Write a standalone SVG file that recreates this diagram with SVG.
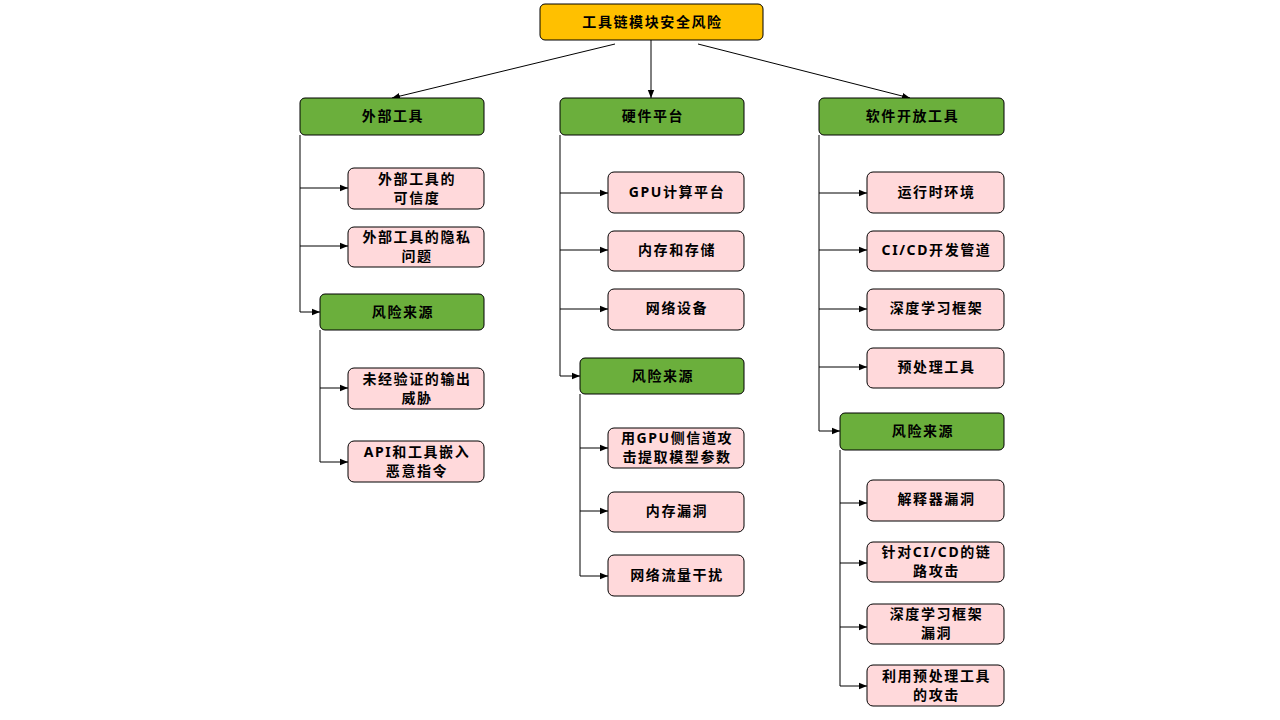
<svg xmlns="http://www.w3.org/2000/svg" width="1280" height="720" viewBox="0 0 1280 720">
<defs>
<marker id="ah" viewBox="0 0 10 10" refX="10" refY="5" markerWidth="8" markerHeight="8" markerUnits="userSpaceOnUse" orient="auto">
<path d="M0,1 L10,5 L0,9 z" fill="#000"/>
</marker>
<style>
.root{fill:#FFC000;stroke:#000;stroke-width:1}
.grp{fill:#6BAF3C;stroke:#000;stroke-width:1}
.leaf{fill:#FFD9DB;stroke:#000;stroke-width:1}
text{font-family:"Noto Sans","Noto Sans CJK SC",sans-serif;font-weight:bold;font-size:14px;letter-spacing:1.6px;fill:#000;text-anchor:middle}
.c{fill:none;stroke:#000;stroke-width:1}
.a{fill:none;stroke:#000;stroke-width:1;marker-end:url(#ah)}
</style>
</defs>
<rect width="1280" height="720" fill="#fff"/>
<g id="connectors">
<path class="a" d="M615,44 L392,98"/>
<path class="a" d="M651,40 L651,98"/>
<path class="a" d="M698,44 L910,98"/>
<path class="c" d="M300,135 L300,312"/>
<path class="a" d="M300,188 L348,188"/>
<path class="a" d="M300,246 L348,246"/>
<path class="a" d="M300,312 L320,312"/>
<path class="c" d="M320,330 L320,462"/>
<path class="a" d="M320,388 L348,388"/>
<path class="a" d="M320,462 L348,462"/>
<path class="c" d="M560,135 L560,376"/>
<path class="a" d="M560,193 L608,193"/>
<path class="a" d="M560,250 L608,250"/>
<path class="a" d="M560,309 L608,309"/>
<path class="a" d="M560,376 L580,376"/>
<path class="c" d="M580,394 L580,576"/>
<path class="a" d="M580,448 L608,448"/>
<path class="a" d="M580,511 L608,511"/>
<path class="a" d="M580,576 L608,576"/>
<path class="c" d="M819,135 L819,431"/>
<path class="a" d="M819,193 L867,193"/>
<path class="a" d="M819,250 L867,250"/>
<path class="a" d="M819,309 L867,309"/>
<path class="a" d="M819,367 L867,367"/>
<path class="a" d="M819,431 L840,431"/>
<path class="c" d="M840,450 L840,686"/>
<path class="a" d="M840,503 L867,503"/>
<path class="a" d="M840,563 L867,563"/>
<path class="a" d="M840,627 L867,627"/>
<path class="a" d="M840,686 L867,686"/>
</g>
<g id="root"><rect class="root" x="540" y="4" width="223" height="36" rx="5"/><text x="652.5" y="27">工具链模块安全风险</text></g>

<g id="ext"><rect class="grp" x="300" y="98" width="184" height="37" rx="5"/><text x="393" y="121">外部工具</text></g>
<g id="ext1"><rect class="leaf" x="348" y="168" width="136" height="41" rx="6"/><text x="417" y="184">外部工具的</text><text x="417" y="203">可信度</text></g>
<g id="ext2"><rect class="leaf" x="348" y="227" width="136" height="40" rx="6"/><text x="417" y="242">外部工具的隐私</text><text x="417" y="261">问题</text></g>
<g id="extRisk"><rect class="grp" x="320" y="294" width="164" height="36" rx="5"/><text x="403" y="317">风险来源</text></g>
<g id="extR1"><rect class="leaf" x="348" y="368" width="136" height="41" rx="6"/><text x="417" y="384">未经验证的输出</text><text x="417" y="403">威胁</text></g>
<g id="extR2"><rect class="leaf" x="348" y="441" width="136" height="41" rx="6"/><text x="417" y="457">API和工具嵌入</text><text x="417" y="476">恶意指令</text></g>

<g id="hw"><rect class="grp" x="560" y="98" width="184" height="37" rx="5"/><text x="653" y="121">硬件平台</text></g>
<g id="hw1"><rect class="leaf" x="608" y="172" width="136" height="41" rx="6"/><text x="677" y="197">GPU计算平台</text></g>
<g id="hw2"><rect class="leaf" x="608" y="231" width="136" height="40" rx="6"/><text x="677" y="255">内存和存储</text></g>
<g id="hw3"><rect class="leaf" x="608" y="289" width="136" height="41" rx="6"/><text x="677" y="313">网络设备</text></g>
<g id="hwRisk"><rect class="grp" x="580" y="358" width="164" height="36" rx="5"/><text x="663" y="381">风险来源</text></g>
<g id="hwR1"><rect class="leaf" x="608" y="428" width="136" height="40" rx="6"/><text x="677" y="443">用GPU侧信道攻</text><text x="677" y="462">击提取模型参数</text></g>
<g id="hwR2"><rect class="leaf" x="608" y="492" width="136" height="40" rx="6"/><text x="677" y="516">内存漏洞</text></g>
<g id="hwR3"><rect class="leaf" x="608" y="555" width="136" height="41" rx="6"/><text x="677" y="580">网络流量干扰</text></g>

<g id="sw"><rect class="grp" x="819" y="98" width="185" height="37" rx="5"/><text x="912.5" y="121">软件开放工具</text></g>
<g id="sw1"><rect class="leaf" x="867" y="172" width="137" height="41" rx="6"/><text x="936.5" y="197">运行时环境</text></g>
<g id="sw2"><rect class="leaf" x="867" y="231" width="137" height="40" rx="6"/><text x="936.5" y="255">CI/CD开发管道</text></g>
<g id="sw3"><rect class="leaf" x="867" y="289" width="137" height="41" rx="6"/><text x="936.5" y="313">深度学习框架</text></g>
<g id="sw4"><rect class="leaf" x="867" y="348" width="137" height="40" rx="6"/><text x="936.5" y="372">预处理工具</text></g>
<g id="swRisk"><rect class="grp" x="840" y="413" width="164" height="37" rx="5"/><text x="923" y="436">风险来源</text></g>
<g id="swR1"><rect class="leaf" x="867" y="480" width="137" height="41" rx="6"/><text x="936.5" y="504">解释器漏洞</text></g>
<g id="swR2"><rect class="leaf" x="867" y="542" width="137" height="40" rx="6"/><text x="936.5" y="557">针对CI/CD的链</text><text x="936.5" y="576">路攻击</text></g>
<g id="swR3"><rect class="leaf" x="867" y="604" width="137" height="40" rx="6"/><text x="936.5" y="619">深度学习框架</text><text x="936.5" y="638">漏洞</text></g>
<g id="swR4"><rect class="leaf" x="867" y="665" width="137" height="41" rx="6"/><text x="936.5" y="681">利用预处理工具</text><text x="936.5" y="700">的攻击</text></g>
</svg>
